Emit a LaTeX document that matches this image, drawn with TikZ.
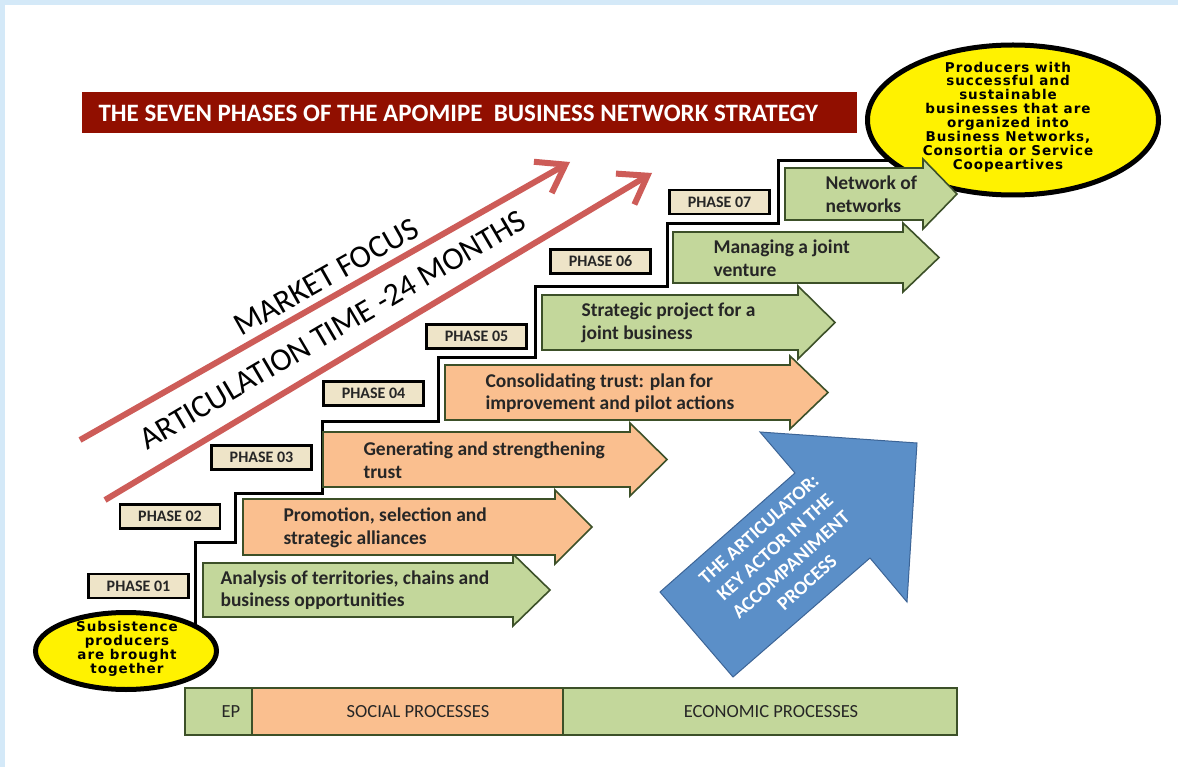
\documentclass[tikz,border=0pt]{standalone}
\usepackage{fontspec}
\setmainfont{Carlito}
\newfontfamily\ellfont[LetterSpace=7]{DejaVu Sans}
\usepackage{tikz}
\usetikzlibrary{arrows.meta,shapes.geometric}
\definecolor{bgblue}{RGB}{212,233,248}
\definecolor{titlered}{RGB}{145,15,0}
\definecolor{greenfill}{RGB}{195,215,155}
\definecolor{orangefill}{RGB}{250,191,143}
\definecolor{phasefill}{RGB}{238,228,200}
\definecolor{edgegreen}{RGB}{60,80,40}
\definecolor{focusred}{RGB}{205,92,88}
\definecolor{actorblue}{RGB}{91,143,200}
\definecolor{actoredge}{RGB}{60,100,150}
\definecolor{inktext}{RGB}{38,38,38}
\newcommand{\steparrow}[6]{\filldraw[stepedge,fill=#6] (#1,#2) -- (#4,#2) -- (#4,#2-9) -- (#5,{(#2+#3)/2}) -- (#4,#3+9) -- (#4,#3) -- (#1,#3) -- cycle;}

\begin{document}
\begin{tikzpicture}[x=1pt,y=-1pt,
	stepedge/.style={draw=edgegreen,line width=1.6pt,line join=miter},
	steptext/.style={anchor=west,align=left,text=inktext,font=\fontsize{19.5}{22.5}\selectfont\bfseries},
	phasebox/.style={draw=black,line width=2.5pt,fill=phasefill,minimum width=100,minimum height=24,inner sep=0,text=inktext,font=\fontsize{16}{16}\selectfont\bfseries},
	focusarrow/.style={focusred,line width=6pt,-{Straight Barb[length=26pt,width=36pt]}},
	focustext/.style={text=black,font=\fontsize{32}{32}\selectfont},
	yellowell/.style={ellipse,draw=black,line width=5pt,fill=yellow,inner sep=0},
	elltext/.style={align=center,text=black,font=\ellfont\bfseries\fontsize{13.5}{13.9}\selectfont},
	barbox/.style={draw=edgegreen,line width=2pt},
	bartext/.style={text=inktext,font=\fontsize{18.5}{18.5}\selectfont}]
	\useasboundingbox (0,0) rectangle (1178,767);
	\fill[bgblue] (0,0) rectangle (1178,767);
	\fill[white] (5,5) rectangle (1178,767);

	\fill[titlered] (82,92) rectangle (857,133);
	\node[anchor=west,text=white,font=\fontsize{25}{25}\selectfont\bfseries] (title) at (95,113) {THE SEVEN PHASES OF THE APOMIPE\ \ BUSINESS NETWORK STRATEGY};

	\coordinate (mfstart) at (80,440);
	\coordinate (mfend) at (570,162);
	\coordinate (atstart) at (105,500);
	\coordinate (atend) at (652,173);
	\draw[focusarrow] (mfstart) -- (mfend);
	\draw[focusarrow] (atstart) -- (atend);
	\node[focustext,rotate=29.5] (market) at (326,277) {MARKET FOCUS};
	\node[focustext,rotate=30.5] (artic) at (333,330) {ARTICULATION TIME -24 MONTHS};

	\draw[black,line width=3pt] (195,640) -- (195,542) -- (235,542) -- (235,493) -- (322,493) -- (322,421) -- (438,421) -- (438,357) -- (535,357) -- (535,287) -- (667,287) -- (667,224) -- (778,224) -- (778,161) -- (890,161);

	\node[yellowell,minimum width=181,minimum height=77] (start) at (126,651) {};
	\node[elltext] (starttext) at (127,649) {Subsistence\\producers\\are brought\\together};
	\node[yellowell,minimum width=291,minimum height=150] (goal) at (1013,120) {};
	\node[elltext] (goaltext) at (1008,117) {Producers with\\successful and\\sustainable\\businesses that are\\organized into\\Business Networks,\\Consortia or Service\\Coopeartives};

	\steparrow{203}{563}{617}{513}{550}{greenfill}
	\node[steptext] (ph1) at (217,590) {Analysis of territories, chains and\\business opportunities};
	\steparrow{243}{499}{555}{555}{592}{orangefill}
	\node[steptext] (ph2) at (280,528) {Promotion, selection and\\strategic alliances};
	\steparrow{323}{432}{487}{630}{667}{orangefill}
	\node[steptext] (ph3) at (360,460) {Generating and strengthening\\trust};
	\steparrow{445}{365}{420}{790}{828}{orangefill}
	\node[steptext] (ph4) at (482,393) {Consolidating trust: plan for\\improvement and pilot actions};
	\steparrow{542}{295}{350}{798}{835}{greenfill}
	\node[steptext] (ph5) at (578,323) {Strategic project for a\\joint business};
	\steparrow{673}{232}{283}{903}{939}{greenfill}
	\node[steptext] (ph6) at (710,258) {Managing a joint\\venture};
	\steparrow{785}{168}{220}{923}{957}{greenfill}
	\node[steptext] (ph7) at (822,194) {Network of\\networks};

	\node[phasebox] (p1) at (138.5,586) {PHASE 01};
	\node[phasebox] (p2) at (170,516.5) {PHASE 02};
	\node[phasebox] (p3) at (261.5,457.5) {PHASE 03};
	\node[phasebox] (p4) at (373.5,393.5) {PHASE 04};
	\node[phasebox] (p5) at (476.5,336.5) {PHASE 05};
	\node[phasebox] (p6) at (600.5,261.5) {PHASE 06};
	\node[phasebox] (p7) at (719.5,202) {PHASE 07};

	\filldraw[fill=actorblue,draw=actoredge,line width=1pt] (760,432) -- (917,443) -- (907,602) -- (870,558) -- (733,677) -- (660,592) -- (795,473) -- cycle;
	\node[rotate=42,align=center,text=white,font=\fontsize{19.5}{24}\selectfont\bfseries] (actor) at (783,556) {THE ARTICULATOR:\\KEY ACTOR IN THE\\ACCOMPANIMENT\\PROCESS};

	\filldraw[barbox,fill=greenfill] (185,688) rectangle (252,735);
	\filldraw[barbox,fill=orangefill] (252,688) rectangle (563,735);
	\filldraw[barbox,fill=greenfill] (563,688) rectangle (957,735);
	\node[bartext] (ep) at (231,712) {EP};
	\node[bartext] (social) at (418,712) {SOCIAL PROCESSES};
	\node[bartext] (economic) at (771,712) {ECONOMIC PROCESSES};
\end{tikzpicture}
\end{document}
